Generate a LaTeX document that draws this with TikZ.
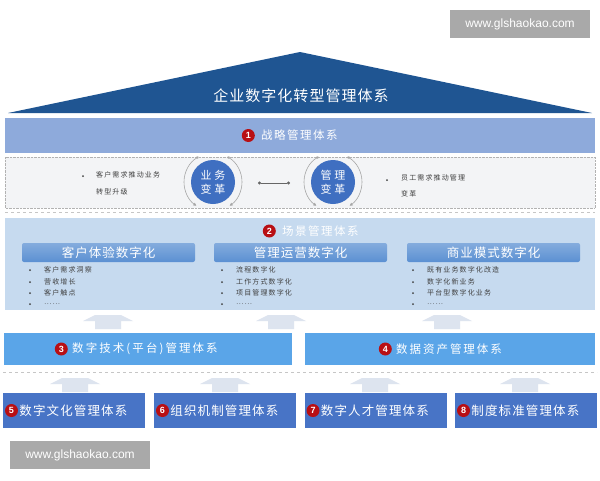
\documentclass[tikz,border=0pt]{standalone}
\usepackage{fontspec}
\setmainfont{Noto Sans CJK SC}
\newfontfamily\latinf{Liberation Sans}
\usetikzlibrary{arrows.meta}
\definecolor{roofblue}{HTML}{1F5592}
\definecolor{bandone}{HTML}{8EAADB}
\definecolor{dashfill}{HTML}{F3F4F6}
\definecolor{scenefill}{HTML}{C6DAEF}
\definecolor{headblue}{HTML}{5B90D2}
\definecolor{rowthree}{HTML}{5AA5E8}
\definecolor{rowfour}{HTML}{4874C6}
\definecolor{arrowfill}{HTML}{DDE4EF}
\definecolor{badgered}{HTML}{B80F14}
\definecolor{circblue}{HTML}{3F6FC1}
\definecolor{wmgrey}{HTML}{A9A9A9}
\definecolor{txtgrey}{HTML}{404040}
\newcommand\lsp[1]{\addfontfeatures{LetterSpace=#1}}
\begin{document}
\begin{tikzpicture}[x=1pt,y=-1pt,
  badge/.style={circle,fill=badgered,text=white,inner sep=0pt,minimum size=13pt,font=\latinf\bfseries\fontsize{9}{9}\selectfont},
  wtext/.style={text=white,inner sep=0pt},
  headbox/.style={draw=none,top color=headblue!75!white,bottom color=headblue,rounded corners=2pt,minimum width=173pt,minimum height=19pt,text=white,font=\fontsize{12.5}{13}\selectfont\lsp{8},inner sep=0pt},
  threebox/.style={fill=rowthree,minimum height=32pt,inner sep=0pt},
  fourbox/.style={fill=rowfour,minimum width=142pt,minimum height=35pt,inner sep=0pt},
  small/.style={text=txtgrey,font=\fontsize{7}{9}\selectfont\lsp{16},inner sep=0pt,anchor=west},
  bul/.style={circle,fill=txtgrey,inner sep=0pt,minimum size=2pt},
  bigcirc/.style={circle,fill=circblue,minimum size=44pt,inner sep=0pt,text=white,align=center,font=\fontsize{11}{14}\selectfont\lsp{25}},
  arcline/.style={draw=gray!70,line width=0.6pt},
  wm/.style={fill=wmgrey,text=white,font=\latinf\fontsize{12}{12}\selectfont,minimum width=140pt,minimum height=28pt,inner sep=0pt},
  upar/.pic={\fill[arrowfill] (-13,0) -- (13,0) -- (25,6) -- (13,6) -- (13,14) -- (-13,14) -- (-13,6) -- (-25,6) -- cycle;}
]
\useasboundingbox[fill=white] (0,0) rectangle (600,480);

% watermark top
\node[wm] (wmtop) at (520,24) {www.glshaokao.com};

% roof
\fill[roofblue] (8,113) -- (300,52) -- (592,113) -- cycle;
\node[wtext,font=\fontsize{15}{15}\selectfont\lsp{7}] (title) at (301,96) {企业数字化转型管理体系};

% band 1
\fill[bandone] (5,118) rectangle (595,153);
\node[wtext,font=\fontsize{11.5}{12}\selectfont\lsp{13},anchor=west] (b1) at (261,135.5) {战略管理体系};
\node[badge,anchor=east] (bd1) at ([xshift=-6pt]b1.west) {1};

% dashed box
\draw[gray!60,densely dotted,fill=dashfill] (5,157) rectangle (595,208);
\draw[gray!45,dashed] (5,212) -- (595,212);

% circles
\node[bigcirc] (c1) at (213,182) {业务\\变革};
\node[bigcirc] (c2) at (333,182) {管理\\变革};
\foreach \c in {c1,c2}{
  \draw[arcline,{Circle[length=2.5pt]}-{Triangle[length=3pt,width=3pt]}] ([shift={(240:29)}]\c.center) arc (240:125:29);
  \draw[arcline,{Circle[length=2.5pt]}-{Triangle[length=3pt,width=3pt]}] ([shift={(-60:29)}]\c.center) arc (-60:55:29);
}
\coordinate (la) at (258,183);
\coordinate (lb) at (290,183);
\draw[gray!80!black,line width=0.6pt,{Circle[length=3pt]}-{Circle[length=3pt]}] (la) -- (lb);

\node[bul] (lb0) at (83,176) {};
\node[small] (lt1) at (96,175) {客户需求推动业务};
\node[small] (lt2) at (96,192) {转型升级};
\node[bul] (rb0) at (387,180) {};
\node[small] (rt1) at (401,178) {员工需求推动管理};
\node[small] (rt2) at (401,194) {变革};

% scene box
\fill[scenefill] (5,218) rectangle (595,310);
\node[wtext,font=\fontsize{11.5}{12}\selectfont\lsp{13},anchor=west] (b2) at (282,231) {场景管理体系};
\node[badge,anchor=east] (bd2) at ([xshift=-6pt]b2.west) {2};

\node[headbox] (h1) at (108.5,252.5) {客户体验数字化};
\node[headbox] (h2) at (300.5,252.5) {管理运营数字化};
\node[headbox] (h3) at (493.5,252.5) {商业模式数字化};

\foreach \x/\y/\t/\n in {30/270/客户需求洞察/a1, 30/282/营收增长/a2, 30/293/客户触点/a3, 30/304/……/a4,
  222/270/流程数字化/b1x, 222/282/工作方式数字化/b2x, 222/293/项目管理数字化/b3x, 222/304/……/b4x,
  413/270/既有业务数字化改造/c1x, 413/282/数字化新业务/c2x, 413/293/平台型数字化业务/c3x, 413/304/……/c4x}{
  \node[bul] (d\n) at (\x,\y) {};
  \node[small] (t\n) at (\x+14,\y) {\t};
}

% arrows to row 3
\pic at (108,315) {upar};
\pic at (281,315) {upar};
\pic at (447,315) {upar};

% row 3
\node[threebox,minimum width=288pt] (r3a) at (148,349) {};
\node[threebox,minimum width=290pt] (r3b) at (450,349) {};
\node[wtext,font=\fontsize{11.5}{12}\selectfont\lsp{18},anchor=west] (r3at) at (72,349) {数字技术(平台)管理体系};
\node[badge,anchor=east] (bd3) at ([xshift=-4pt]r3at.west) {3};
\node[wtext,font=\fontsize{11.5}{12}\selectfont\lsp{17},anchor=west] (r3bt) at (396,349) {数据资产管理体系};
\node[badge,anchor=east] (bd4) at ([xshift=-4pt]r3bt.west) {4};

\draw[gray!45,dashed] (3,372) -- (597,372);

% arrows to row 4
\pic at (75,378) {upar};
\pic at (225,378) {upar};
\pic at (375,378) {upar};
\pic at (525,378) {upar};

% row 4
\node[fourbox] (r41) at (74,410.5) {};
\node[fourbox] (r42) at (225,410.5) {};
\node[fourbox] (r43) at (375.5,410.5) {};
\node[fourbox] (r44) at (526,410.5) {};
\foreach \b/\n/\t in {r41/5/数字文化管理体系, r42/6/组织机制管理体系, r43/7/数字人才管理体系, r44/8/制度标准管理体系}{
  \node[badge,anchor=west] (bd\n) at ([xshift=2pt]\b.west) {\n};
  \node[wtext,font=\fontsize{12.5}{13}\selectfont\lsp{9},anchor=west] (t\n) at ([xshift=1pt]bd\n.east) {\t};
}

% watermark bottom
\node[wm] (wmbot) at (80,455) {www.glshaokao.com};
\end{tikzpicture}
\end{document}
